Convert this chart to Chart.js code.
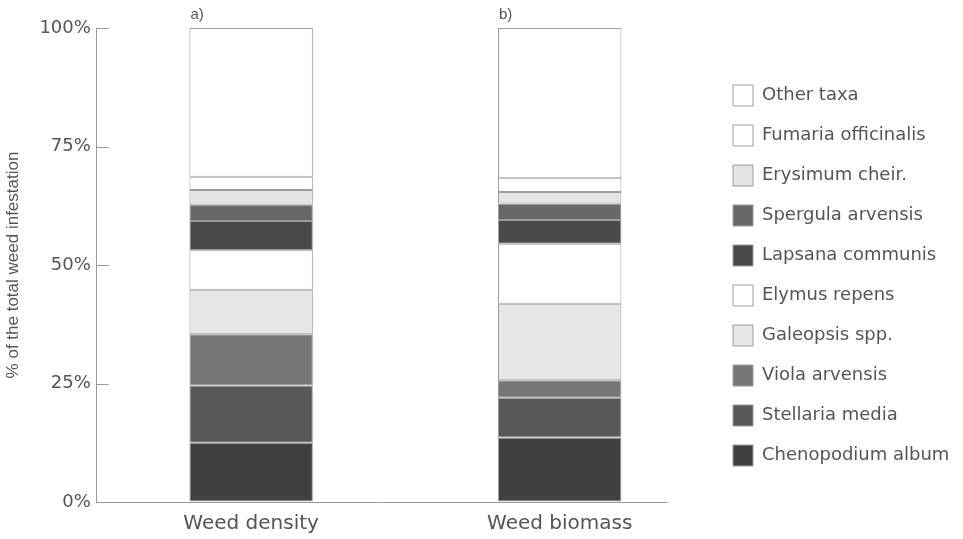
<!DOCTYPE html>
<html>
<head>
<meta charset="utf-8">
<script src="https://cdn.jsdelivr.net/npm/chart.js@4.4.1/dist/chart.umd.min.js"></script>
<style>
  html, body { margin: 0; padding: 0; background: #fff; }
  #wrap { width: 963px; height: 539px; }
</style>
</head>
<body>
<div id="wrap"><canvas id="weedChart"></canvas></div>
<script>
const categories = ['Weed density', 'Weed biomass'];
const panelTags = ['a)', 'b)'];
const taxa = ['Chenopodium album', 'Stellaria media', 'Viola arvensis', 'Galeopsis spp.', 'Elymus repens',
              'Lapsana communis', 'Spergula arvensis', 'Erysimum cheir.', 'Fumaria officinalis', 'Other taxa'];
const densityShare = [12.5, 12.1, 10.8, 9.4, 8.3, 6.2, 3.4, 3.1, 2.8, 31.4];
const biomassShare = [13.6, 8.4, 3.7, 16.1, 12.7, 5.0, 3.5, 2.4, 2.9, 31.7];
const yTicks = [0, 25, 50, 75, 100];
const fills = ['#404040', '#585858', '#767676', '#e6e6e6', '#ffffff',
               '#4a4a4a', '#686868', '#e4e4e4', '#ffffff', '#ffffff'];

const datasets = taxa.map(function(name, i) {
    return {
        label: name,
        data: [densityShare[i], biomassShare[i]],
        backgroundColor: fills[i],
        borderColor: '#9c9c9c',
        borderWidth: 1,
        borderSkipped: false,
        categoryPercentage: 1,
        barPercentage: 0.4
    };
});

// tick marks point into the plot, x axis line stops short of the right edge
const axisExtras = {
    id: 'axisExtras',
    afterDraw(chart) {
        const ctx = chart.ctx;
        const y = chart.scales.y, x = chart.scales.x;
        const area = chart.chartArea;
        ctx.save();
        ctx.strokeStyle = '#9a9a9a';
        ctx.lineWidth = 1;
        yTicks.forEach(function(v) {
            const py = Math.round(y.getPixelForValue(v)) + 0.5;
            ctx.beginPath();
            ctx.moveTo(area.left, py);
            ctx.lineTo(area.left + 12, py);
            ctx.stroke();
        });
        const step = x.getPixelForValue(1) - x.getPixelForValue(0);
        const by = Math.round(y.getPixelForValue(0)) + 0.5;
        ctx.beginPath();
        ctx.moveTo(area.left, by);
        ctx.lineTo(x.getPixelForValue(1) + step * 0.35, by);
        ctx.stroke();

        ctx.fillStyle = '#555';
        ctx.font = '15px "Liberation Sans", Arial, sans-serif';
        ctx.textBaseline = 'alphabetic';
        const meta = chart.getDatasetMeta(taxa.length - 1);
        meta.data.forEach(function(bar, i) {
            ctx.fillText(panelTags[i], bar.x - bar.width / 2 + 1, bar.y - 9);
        });
        ctx.restore();
    }
};

new Chart(document.getElementById('weedChart').getContext('2d'), {
    type: 'bar',
    data: { labels: categories, datasets: datasets },
    options: {
        responsive: true,
        maintainAspectRatio: false,
        animation: false,
        layout: { padding: { top: 28, left: 3, right: 12, bottom: -7 } },
        plugins: {
            tooltip: { enabled: false },
            legend: {
                position: 'right',
                align: 'start',
                reverse: true,
                title: {
                    display: true,
                    text: ' ',
                    padding: 7,
                    font: { size: 20 }
                },
                labels: {
                    boxWidth: 20,
                    boxHeight: 21,
                    padding: 19,
                    color: '#555',
                    font: { family: '"DejaVu Sans", sans-serif', size: 18 }
                }
            }
        },
        scales: {
            x: {
                stacked: true,
                grid: { display: false, drawTicks: false, tickLength: 0 },
                border: { display: false },
                ticks: {
                    color: '#555',
                    padding: 10,
                    font: { family: '"DejaVu Sans", sans-serif', size: 20 }
                }
            },
            y: {
                stacked: true,
                min: 0,
                max: 100,
                afterBuildTicks: function(scale) {
                    scale.ticks = yTicks.map(function(v) { return { value: v }; });
                },
                grid: { drawOnChartArea: false, drawTicks: false },
                border: { color: '#9a9a9a' },
                ticks: {
                    color: '#555',
                    padding: 6,
                    font: { family: '"DejaVu Sans", sans-serif', size: 18 },
                    callback: function(v) { return v + '%'; }
                },
                title: {
                    display: true,
                    text: '% of the total weed infestation',
                    color: '#555',
                    padding: { top: 0, bottom: 10 },
                    font: { family: '"Liberation Sans", Arial, sans-serif', size: 17 }
                }
            }
        }
    },
    plugins: [axisExtras]
});
</script>
</body>
</html>
